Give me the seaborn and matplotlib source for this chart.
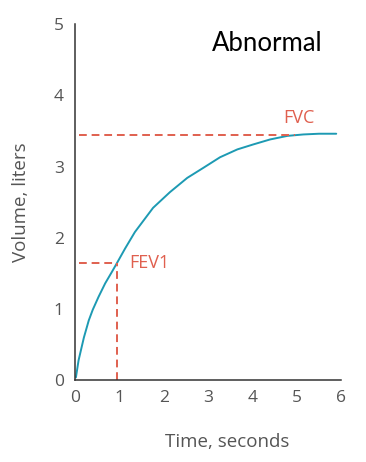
import numpy as np
import pandas as pd
import matplotlib
matplotlib.use("Agg")
import matplotlib.pyplot as plt
import seaborn as sns

# Volume-time curve
time_s = [0.02, 0.08, 0.20, 0.31, 0.40, 0.53, 0.68, 0.84, 0.95, 1.13, 1.35, 1.76, 2.14,
          2.53, 2.89, 3.27, 3.66, 4.02, 4.40, 4.79, 5.15, 5.50, 5.89]
volume_l = [0.04, 0.28, 0.60, 0.84, 0.99, 1.17, 1.36, 1.53, 1.65, 1.85, 2.08, 2.42, 2.64,
            2.84, 2.98, 3.13, 3.24, 3.31, 3.38, 3.43, 3.45, 3.46, 3.46]

fvc_value = 3.44
fvc_span = [0.08, 4.95]
fev1_value = 1.64
fev1_time = 0.95
fev1_start = 0.08

xticks = [0, 1, 2, 3, 4, 5, 6]
yticks = [0, 1, 2, 3, 4, 5]

sns.set_style("white")
plt.rcParams['font.family'] = ['Open Sans', 'DejaVu Sans']

curve_col = "#1d9ab3"
dash_col = "#e0604f"
text_col = "#555555"

df = pd.DataFrame({"Time": time_s, "Volume": volume_l})

fig = plt.figure(figsize=(3.66, 4.62), dpi=100)
ax = fig.add_axes([0.205, 0.177, 0.727, 0.771])

sns.lineplot(data=df, x="Time", y="Volume", ax=ax, color=curve_col, linewidth=1.4)

# FVC and FEV1 guides
ax.plot(fvc_span, [fvc_value, fvc_value], color=dash_col, lw=1.4, ls=(0, (4, 2.5)))
ax.plot([fev1_start, fev1_time], [fev1_value, fev1_value], color=dash_col, lw=1.4, ls=(0, (4, 2.5)))
ax.plot([fev1_time, fev1_time], [0, fev1_value], color=dash_col, lw=1.4, ls=(0, (4, 2.5)))

ax.text(4.7, 3.68, "FVC", color=dash_col, fontsize=13, va="center", ha="left")
ax.text(1.22, 1.64, "FEV1", color=dash_col, fontsize=13, va="center", ha="left")
ax.text(4.33, 4.72, "Abnormal", color="black", fontsize=18.5, va="center", ha="center",
        family=['Lato', 'DejaVu Sans'])

ax.set_xlim(0, 6)
ax.set_ylim(0, 5)
ax.set_xticks(xticks)
ax.set_yticks(yticks)

for s in ["top", "right"]:
    ax.spines[s].set_visible(False)
for s in ["left", "bottom"]:
    ax.spines[s].set_color("#333333")
    ax.spines[s].set_linewidth(1.1)

ax.tick_params(axis="both", direction="in", length=7, width=1, color="#555555",
               labelcolor=text_col, labelsize=12.5)
ax.tick_params(axis="x", pad=7)
ax.tick_params(axis="y", pad=8)

ax.set_xlabel("Time, seconds", color=text_col, fontsize=13.5, labelpad=19)
ax.set_ylabel("Volume, liters", color=text_col, fontsize=13.5, labelpad=17)
ax.xaxis.set_label_coords(0.57, -0.148)

fig.savefig("out.png", dpi=100)
